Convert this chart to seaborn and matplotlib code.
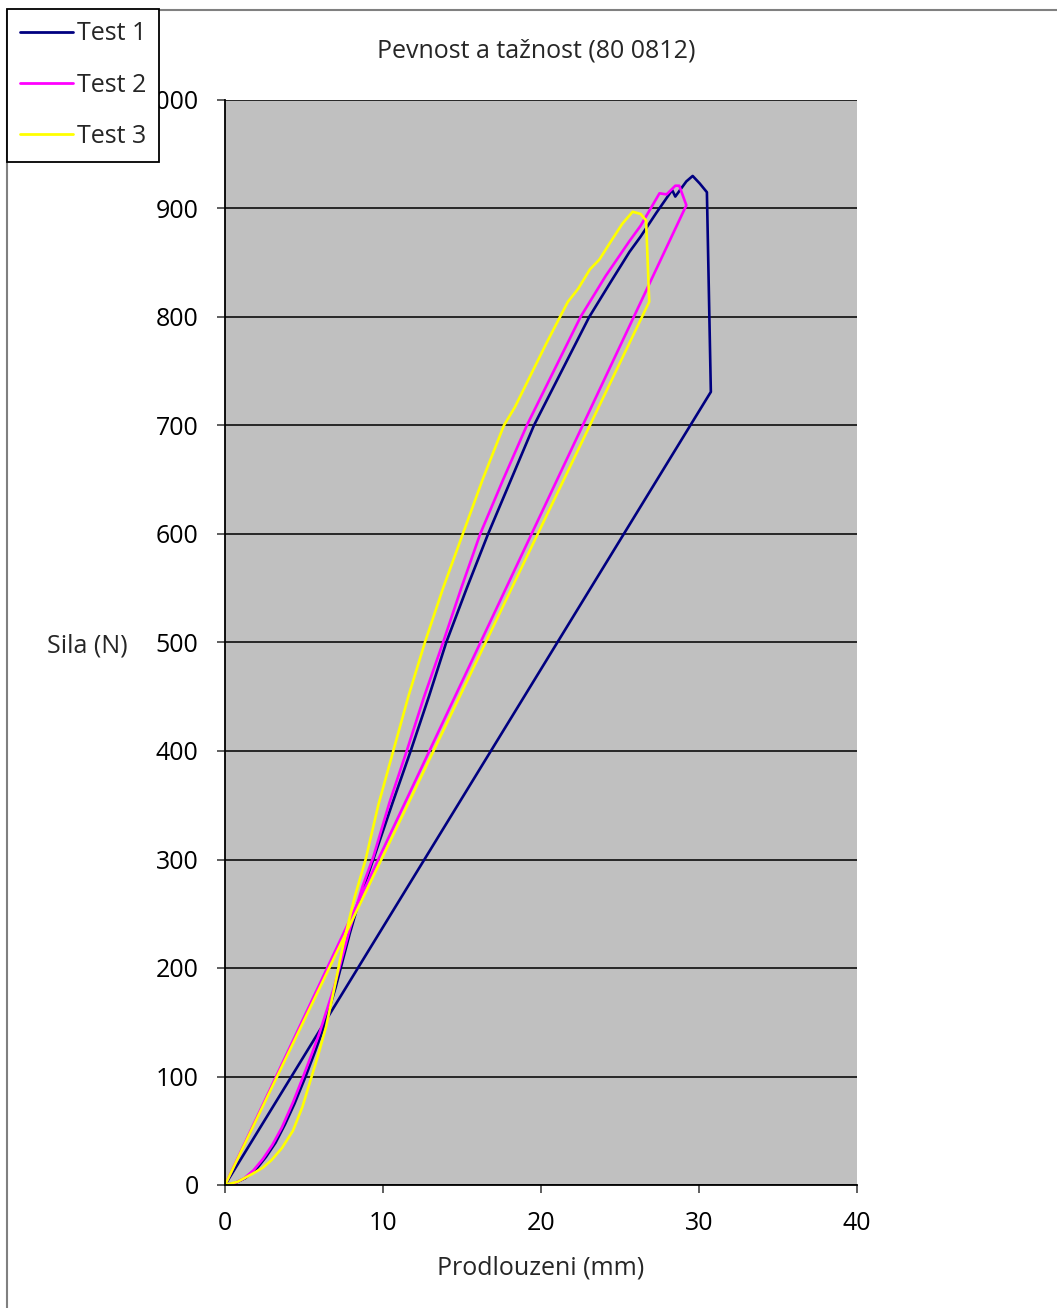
import numpy as np
import pandas as pd
import matplotlib
matplotlib.use("Agg")
import matplotlib.pyplot as plt
from matplotlib.lines import Line2D
import seaborn as sns

sns.set_theme(style="white")
plt.rcParams['font.family'] = ['Open Sans', 'DejaVu Sans']

# ------------------------------------------------------------------------
# Data (elongation in mm, force in N)
# ------------------------------------------------------------------------
test1_x = [0, 0.6, 1.3, 2.0, 2.6, 3.2, 3.8, 4.4, 5.1, 5.7, 6.2, 7.0, 7.9,
           8.6, 9.5, 10.6, 11.75, 12.9, 14.0, 15.3, 16.65, 18.1, 19.55, 21.3,
           23.05, 24.4, 25.6, 26.3, 27.3, 28.3, 28.5, 29.2, 29.6, 30.05, 30.5,
           30.75, 0]
test1_y = [0, 1.5, 6.5, 15, 26, 39, 56, 75, 100, 123, 143, 182, 232,
           267, 305, 352, 400, 450, 500, 550, 600, 650, 700, 750,
           800, 832, 860, 874, 896, 917, 911, 925, 930, 923, 915,
           731, 0]

test2_x = [0, 0.6, 1.2, 1.8, 2.4, 3.0, 3.6, 4.3, 4.95, 5.5, 6.0, 6.9, 7.9,
           8.7, 9.4, 10.4, 11.5, 12.6, 13.8, 14.95, 16.15, 17.6, 19.1, 20.8,
           22.5, 24.1, 25.6, 26.3, 27.5, 27.95, 28.5, 28.75, 29.2, 0]
test2_y = [0, 1.5, 6, 13.5, 24, 37, 53, 76, 100, 121, 141, 182, 236,
           275, 303, 352, 400, 450, 500, 550, 600, 650, 700, 750,
           800, 838, 870, 884, 914, 913, 921, 921, 903, 0]

test3_x = [0, 0.8, 1.7, 2.4, 2.95, 3.6, 4.3, 4.9, 5.4, 5.9, 6.4, 6.9, 7.5,
           8.2, 8.9, 9.7, 10.65, 11.6, 12.65, 13.8, 15.05, 16.3, 17.65, 18.35,
           19.5, 20.35, 21.2, 21.7, 22.35, 23.1, 23.7, 24.35, 25.15, 25.8,
           26.3, 26.65, 26.85, 0]
test3_y = [0, 3, 10, 16, 23, 34, 50, 72, 96, 120, 146, 180, 223,
           265, 300, 350, 400, 450, 500, 550, 600, 650, 700, 717,
           751, 776, 800, 814, 826, 844, 853, 868, 886, 897,
           895, 889, 814, 0]

series_names = ['Test 1', 'Test 2', 'Test 3']
series_colors = ['#000080', '#FF00FF', '#FFFF00']

frames = []
for name, xs, ys in zip(series_names,
                        [test1_x, test2_x, test3_x],
                        [test1_y, test2_y, test3_y]):
    frames.append(pd.DataFrame({'x': xs, 'y': ys, 'test': name}))
df = pd.concat(frames, ignore_index=True)

# ------------------------------------------------------------------------
# Figure
# ------------------------------------------------------------------------
W, H = 1057, 1308
fig = plt.figure(figsize=(W / 100, H / 100), dpi=100)
ax = fig.add_axes([225 / W, 1 - 1185 / H, (857 - 225) / W, (1185 - 100) / H])
ax.set_facecolor('#C0C0C0')

sns.lineplot(data=df, x='x', y='y', hue='test', sort=False, estimator=None,
             palette=dict(zip(series_names, series_colors)), linewidth=1.9,
             ax=ax)

ax.set_xlim(0, 40)
ax.set_ylim(0, 1000)
ax.set_xticks(range(0, 41, 10))
ax.set_yticks(range(0, 1001, 100))
ax.set_axisbelow(True)
ax.yaxis.grid(True, color='#1a1a1a', linewidth=1.3)
ax.xaxis.grid(False)

for side in ['top', 'right']:
    ax.spines[side].set_visible(False)
for side in ['left', 'bottom']:
    ax.spines[side].set_color('black')
    ax.spines[side].set_linewidth(1.3)

ax.tick_params(axis='both', direction='out', length=6, width=1.1,
               color='#333333', labelsize=18, labelcolor='black', pad=13)
ax.tick_params(axis='both', which='both', left=True, bottom=True)

ax.set_xlabel('Prodlouzeni (mm)', fontsize=18, va='center')
ax.xaxis.set_label_coords(0.5, (1185 - 1268) / 1085)
ax.set_ylabel('Sila (N)', fontsize=18, rotation=0, ha='right', va='center')
ax.yaxis.set_label_coords((128 - 225) / 632, 0.497)

fig.text(536 / W, 1 - 51 / H, 'Pevnost a tažnost (80 0812)', fontsize=18,
         ha='center', va='center')

# legend in the top left corner, on top of the axis labels
handles, labels = ax.get_legend_handles_labels()
ax.get_legend().remove()
leg = fig.legend(handles, labels, loc='upper left',
                 bbox_to_anchor=(7 / W, 1 - 9 / H), borderaxespad=0,
                 fontsize=18, frameon=True, fancybox=False,
                 handlelength=2.15, handletextpad=0.15, labelspacing=1.05,
                 borderpad=0.5)
leg.get_frame().set_edgecolor('black')
leg.get_frame().set_linewidth(1.3)
leg.get_frame().set_facecolor('white')
leg.get_frame().set_alpha(1)
for line in leg.get_lines():
    line.set_linewidth(2.0)

# outer chart border (top and left edges)
fig.add_artist(Line2D([7 / W, 7 / W, 1], [0, 1 - 9.5 / H, 1 - 9.5 / H],
                      transform=fig.transFigure, color='#808080',
                      linewidth=1.5, zorder=0))

fig.savefig('out.png', dpi=100)
